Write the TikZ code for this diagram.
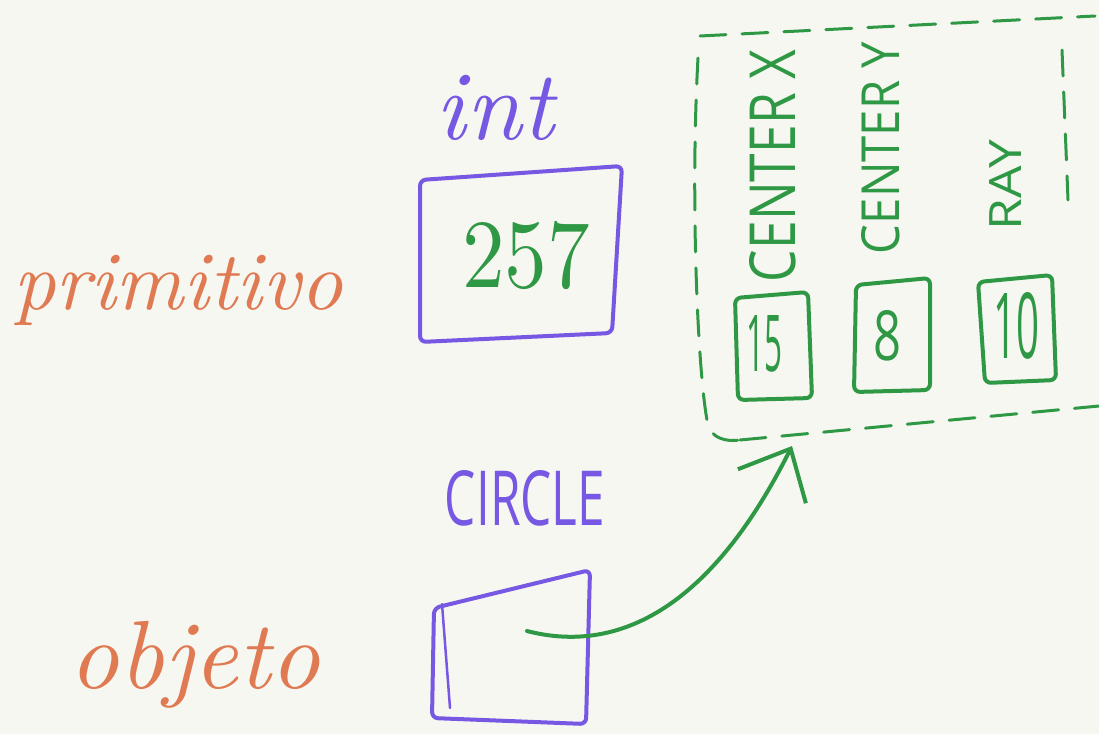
\documentclass[tikz,border=0pt]{standalone}
\usepackage{graphicx}
\usepackage{fontspec}
\setsansfont{Open Sans}
\usetikzlibrary{arrows.meta}
\definecolor{paper}{HTML}{F7F7F2}
\definecolor{ink purple}{HTML}{7658E2}
\definecolor{ink green}{HTML}{2F9845}
\definecolor{ink orange}{HTML}{DF7A52}
\tikzset{
  pbox/.style={draw=ink purple, line width=4pt, line join=round, line cap=round, rounded corners=6pt},
  gbox/.style={draw=ink green, line width=4pt, line join=round, line cap=round, rounded corners=6pt},
  gdash/.style={draw=ink green, line width=3pt, line cap=round, dash pattern=on 26pt off 16pt},
  hand/.style={inner sep=0pt, font=\itshape},
  caps/.style={inner sep=0pt, font=\sffamily, text=ink green},
}
\begin{document}
\begin{tikzpicture}[x=1pt, y=-1pt]
\fill[paper] (0,0) rectangle (1099,734);
\useasboundingbox (0,0) rectangle (1099,734);

% left labels
\node[hand, text=ink orange] (prim) at (178,290) {\resizebox{330pt}{!}{primitivo}};
\node[hand, text=ink orange] (obj) at (195,665) {\resizebox{250pt}{!}{objeto}};

% int
\node[hand, text=ink purple] (int) at (495,108) {\resizebox{118pt}{!}{int}};
\draw[pbox] (420,180) -- (622,166) -- (612,333) -- (420,342) -- cycle;
\node[inner sep=0pt, text=ink green] (v257) at (526,256) {\resizebox{128pt}{66pt}{257}};

% circle object
\node[inner sep=0pt, text=ink purple, font=\sffamily] (circ) at (525,498) {\resizebox{160pt}{55pt}{CIRCLE}};
\draw[pbox] (432,718) -- (434,608) -- (590,570) -- (586,724) -- cycle;
\draw[draw=ink purple, line width=2.5pt, line cap=round] (442,604) -- (450,708);
\coordinate (ref) at (527,631);

% dashed container
\draw[gdash] (700,36) -- (1095,16);
\draw[gdash] (698,58) .. controls (690,200) and (698,380) .. (708,425) .. controls (712,438) and (725,442) .. (740,440);
\draw[gdash] (740,440) -- (1099,406);
\draw[gdash] (1062,50) -- (1068,200);
\coordinate (target) at (792,446);

% field labels
\node[caps, rotate=90] (cx) at (773,166) {\resizebox{232pt}{46pt}{CENTER X}};
\node[caps, rotate=90] (cy) at (881,148) {\resizebox{212pt}{38pt}{CENTER Y}};
\node[caps, rotate=90] (ray) at (1005,185) {\resizebox{90pt}{32pt}{RAY}};

% field boxes
\draw[gbox] (735,298) -- (808,292) -- (812,398) -- (738,400) -- cycle;
\node[inner sep=0pt, text=ink green, font=\sffamily] (f1) at (764,344) {\resizebox{36pt}{56pt}{15}};
\draw[gbox] (856,285) -- (930,278) -- (930,390) -- (854,392) -- cycle;
\node[inner sep=0pt, text=ink green, font=\sffamily] (f2) at (887,336) {\resizebox{28pt}{50pt}{8}};
\draw[gbox] (978,282) -- (1052,275) -- (1056,380) -- (985,383) -- cycle;
\node[inner sep=0pt, text=ink green, font=\sffamily] (f3) at (1016,326) {\resizebox{46pt}{66pt}{10}};

% pointer arrow
\draw[draw=ink green, line width=4pt, line cap=round, -{Straight Barb[length=42pt, width=76pt, line width=4pt]}]
  (ref) .. controls (600,650) and (700,630) .. (target);
\end{tikzpicture}
\end{document}
